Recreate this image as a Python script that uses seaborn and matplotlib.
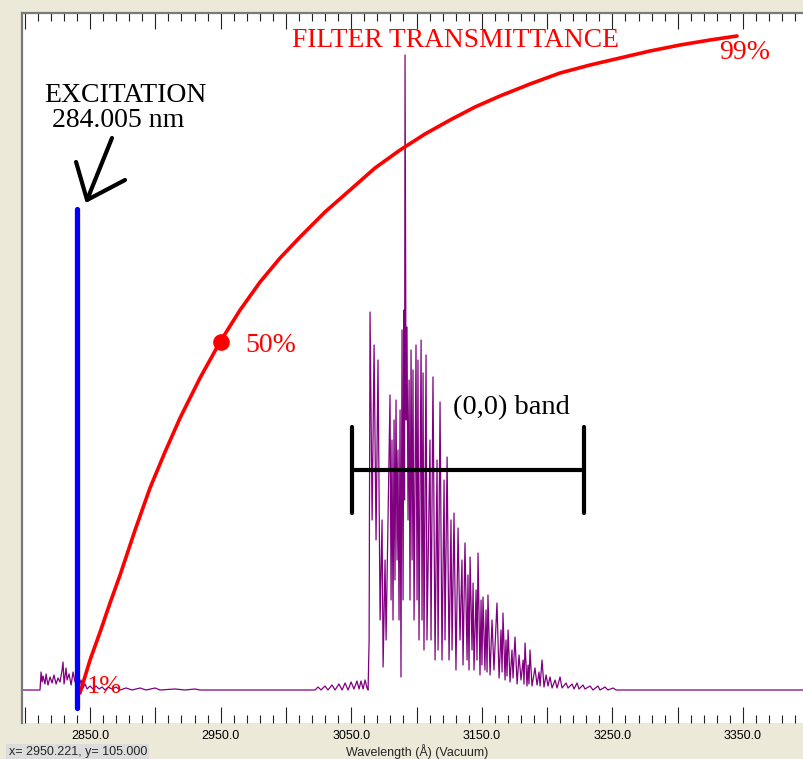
import numpy as np
import pandas as pd
import matplotlib
matplotlib.use("Agg")
import matplotlib.pyplot as plt
import seaborn as sns
from matplotlib.ticker import MultipleLocator, FuncFormatter

# ---------------- data ----------------
# emission spectrum: wavelength (Angstrom, vacuum) and intensity (arb. units)
spec_wl = [2797.9, 2811.7, 2812.5, 2813.3, 2814.0, 2815.5, 2816.3, 2817.8, 2819.4, 2820.9,
           2822.4, 2824.0, 2825.5, 2827.0, 2828.6, 2829.3, 2830.1, 2831.6, 2832.4, 2833.9,
           2835.5, 2837.0, 2838.5, 2840.0, 2841.6, 2843.1, 2844.6, 2846.2, 2847.7, 2850.0,
           2852.3, 2854.6, 2856.9, 2859.2, 2861.5, 2863.8, 2866.8, 2869.9, 2873.0, 2877.6,
           2882.2, 2888.3, 2892.9, 2899.8, 2903.6, 2915.1, 2922.7, 2930.4, 2934.2, 3022.3,
           3024.6, 3026.9, 3029.9, 3032.2, 3035.3, 3037.6, 3040.6, 3043.0, 3045.3, 3047.6,
           3049.9, 3052.1, 3054.4, 3056.0, 3057.5, 3059.1, 3060.6, 3062.1, 3062.9, 3063.7,
           3064.4, 3066.0, 3067.5, 3069.0, 3070.5, 3072.1, 3073.6, 3074.4, 3075.9, 3076.7,
           3079.7, 3080.5, 3081.2, 3082.0, 3082.8, 3083.5, 3084.3, 3085.1, 3085.8, 3086.6,
           3087.4, 3088.1, 3088.9, 3089.7, 3090.4, 3090.8, 3091.2, 3092.0, 3092.7, 3093.5,
           3094.3, 3095.0, 3095.8, 3096.6, 3097.3, 3098.1, 3099.6, 3100.4, 3101.1, 3101.9,
           3103.5, 3104.2, 3105.0, 3105.7, 3107.3, 3108.0, 3110.3, 3111.1, 3112.6, 3114.2,
           3115.7, 3116.5, 3118.0, 3119.5, 3121.1, 3121.8, 3123.4, 3124.9, 3126.4, 3127.2,
           3128.7, 3130.2, 3131.8, 3133.3, 3134.8, 3135.6, 3137.1, 3138.7, 3139.4, 3140.2,
           3141.0, 3142.5, 3143.3, 3144.0, 3145.6, 3146.3, 3147.1, 3148.6, 3149.4, 3150.1,
           3150.9, 3152.4, 3153.2, 3154.0, 3154.7, 3156.3, 3157.8, 3159.3, 3161.6, 3163.2,
           3164.7, 3165.5, 3166.2, 3167.8, 3168.5, 3169.3, 3170.1, 3171.6, 3173.1, 3173.9,
           3175.4, 3177.0, 3178.5, 3180.0, 3181.6, 3182.3, 3183.1, 3184.6, 3185.4, 3186.1,
           3186.9, 3188.4, 3190.7, 3192.3, 3193.8, 3194.6, 3196.1, 3197.6, 3199.2, 3200.7,
           3202.2, 3203.8, 3206.1, 3207.6, 3209.9, 3211.4, 3214.5, 3216.0, 3219.1, 3220.6,
           3222.9, 3224.4, 3227.5, 3229.0, 3232.9, 3235.1, 3238.9, 3240.5, 3244.3, 3246.6,
           3250.5, 3252.8, 3396.7]
spec_int = [0, 0, 18, 8, 14, 6, 16, 5, 13, 7,
            15, 6, 12, 8, 20, 28, 6, 22, 10, 16,
            5, 18, 8, 14, 3, 10, 2, 6, 1, 4,
            1, 4, 1, 3, 0, 3, 1, 3, 0, 2,
            0, 2, 0, 2, 0, 1, 0, 1, 0, 0,
            3, 0, 4, 0, 5, 0, 6, 0, 7, 0,
            8, 1, 9, 1, 9, 1, 10, 2, 0, 50,
            378, 170, 345, 150, 330, 70, 170, 23, 130, 50,
            295, 90, 250, 70, 270, 110, 290, 130, 240, 70,
            280, 13, 360, 90, 380, 190, 635, 270, 363, 170,
            310, 90, 340, 130, 320, 70, 345, 90, 330, 50,
            350, 70, 317, 40, 335, 50, 250, 50, 313, 30,
            230, 40, 288, 30, 210, 50, 233, 30, 170, 40,
            177, 20, 162, 50, 130, 25, 147, 30, 115, 20,
            133, 40, 107, 20, 100, 30, 137, 15, 90, 25,
            93, 20, 80, 18, 95, 15, 70, 20, 87, 12,
            60, 18, 77, 10, 50, 14, 60, 8, 40, 12,
            53, 6, 35, 10, 30, 6, 47, 4, 25, 6,
            40, 4, 22, 5, 18, 4, 30, 3, 15, 4,
            13, 2, 10, 2, 13, 2, 7, 2, 6, 1,
            7, 1, 5, 1, 4, 0, 4, 0, 3, 0,
            2, 0, 0]

# filter transmittance curve (hand-drawn overlay) in the same plot units
filt_wl = [2842.3, 2850.0, 2857.7, 2865.3, 2873.0, 2884.5, 2895.9, 2907.4, 2918.9, 2934.2,
           2949.5, 2964.9, 2980.2, 2995.5, 3010.8, 3029.9, 3049.1, 3068.2, 3087.4, 3106.5,
           3125.7, 3144.8, 3163.9, 3186.9, 3209.9, 3232.9, 3255.8, 3278.8, 3301.8, 3324.7,
           3345.4]
filt_int = [-3, 30, 58, 87, 115, 160, 202, 238, 272, 312,
            348, 380, 408, 432, 453, 478, 500, 522, 540, 556,
            570, 583, 594, 606, 617, 625, 632, 639, 645, 650,
            654]
half_point_wl = 2950.2
half_point_int = 348

excitation_wl = 2840.05
excitation_span = [-18, 481]

band_start_wl = 3050.6
band_end_wl = 3228.3
band_level = 220
band_bar_span = [177, 263]

# hand-drawn arrow pointing to the excitation line
arrow_shaft_wl = [2866.8, 2847.7]
arrow_shaft_int = [552, 490]
arrow_head_wl = [2839.3, 2847.7, 2876.8]
arrow_head_int = [528, 490, 510]

x_limits = (2797.9, 3396.7)
y_limits = (-33, 677)

# ---------------- drawing ----------------
sns.set_theme(style="white")
plt.rcParams['font.family'] = ['Liberation Sans', 'DejaVu Sans']

W, H = 804, 759
fig = plt.figure(figsize=(W / 100, H / 100), dpi=100, facecolor='#ECE9D8')
ax = fig.add_axes([22 / W, 36 / H, 1 - 22 / W, 710 / H])
ax.set_facecolor('white')

spec = pd.DataFrame({'wl': spec_wl, 'I': spec_int})
filt = pd.DataFrame({'wl': filt_wl, 'I': filt_int})

sns.lineplot(data=spec, x='wl', y='I', ax=ax, color='#800080', linewidth=0.9,
             sort=False, estimator=None, zorder=2)
sns.lineplot(data=filt, x='wl', y='I', ax=ax, color='#FF0000', linewidth=2.6,
             sort=False, estimator=None, zorder=4)
ax.plot([half_point_wl], [half_point_int], 'o', color='#FF0000', markersize=11, zorder=5)

ax.plot([excitation_wl, excitation_wl], excitation_span, color='#0000FF', linewidth=3.8,
        solid_capstyle='round', zorder=6)

ax.plot([band_start_wl, band_end_wl], [band_level, band_level], color='black', linewidth=3, zorder=5)
ax.plot([band_start_wl, band_start_wl], band_bar_span, color='black', linewidth=3,
        solid_capstyle='round', zorder=5)
ax.plot([band_end_wl, band_end_wl], band_bar_span, color='black', linewidth=3,
        solid_capstyle='round', zorder=5)

ax.plot(arrow_shaft_wl, arrow_shaft_int, color='black', linewidth=3, solid_capstyle='round', zorder=6)
ax.plot(arrow_head_wl, arrow_head_int, color='black', linewidth=3, solid_capstyle='round',
        solid_joinstyle='round', zorder=6)

serif = ['Liberation Serif', 'DejaVu Serif']
ax.text(3130.2, 650, 'FILTER TRANSMITTANCE', color='#FF0000', fontsize=19.8, family=serif,
        ha='center', va='center', zorder=7)
ax.text(3351.5, 638, '99%', color='#FF0000', fontsize=20, family=serif, ha='center', va='center')
ax.text(2968.7, 345, '50%', color='#FF0000', fontsize=20, family=serif, ha='left', va='center')
ax.text(2847.2, 3, '1%', color='#FF0000', fontsize=19, family=serif, ha='left', va='center', zorder=3)
ax.text(2876.8, 595, 'EXCITATION', color='black', fontsize=20, family=serif, ha='center', va='center')
ax.text(2871.4, 570, '284.005 nm', color='black', fontsize=20, family=serif, ha='center', va='center')
ax.text(3172.4, 282, '(0,0) band', color='black', fontsize=20.5, family=serif, ha='center', va='center')

ax.set_xlim(*x_limits)
ax.set_ylim(*y_limits)
ax.set_yticks([])
ax.set_ylabel('')

ax.xaxis.set_major_locator(MultipleLocator(50))
ax.xaxis.set_minor_locator(MultipleLocator(10))
ax.xaxis.set_major_formatter(FuncFormatter(
    lambda v, p: f'{v:.1f}' if int(round(v - 2850)) % 100 == 0 else ''))
ax.tick_params(axis='x', which='both', direction='in', top=True, bottom=True,
               color='#222222', width=0.8, labelsize=9, pad=5, labelcolor='black')
ax.tick_params(axis='x', which='major', length=11.5)
ax.tick_params(axis='x', which='minor', length=6)

for s in ['right', 'bottom']:
    ax.spines[s].set_visible(False)
for s in ['left', 'top']:
    ax.spines[s].set_visible(True)
    ax.spines[s].set_color('#7a7a7a')
    ax.spines[s].set_linewidth(1.6)

ax.set_xlabel('Wavelength (Å) (Vacuum)', fontsize=9)
ax.xaxis.label.set_va('center')
ax.xaxis.set_label_coords(0.505, -0.0408)

fig.text(147 / W, 1 - 752 / H, 'x= 2950.221, y= 105.000', ha='right', va='center',
         fontsize=9, bbox=dict(facecolor='#DCDCDC', edgecolor='none', pad=1.5))

fig.savefig('out.png', dpi=100, facecolor=fig.get_facecolor())
